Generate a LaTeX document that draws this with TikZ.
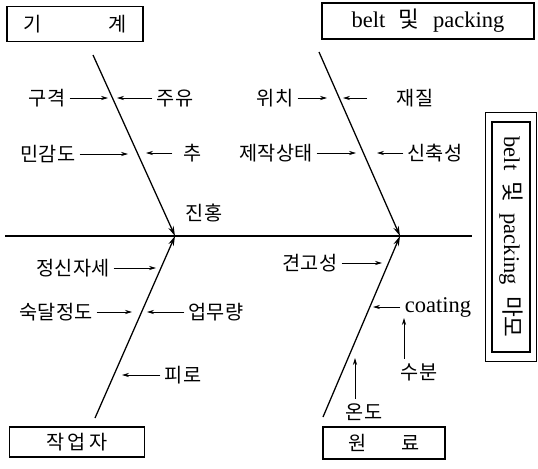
\documentclass[tikz,border=0pt]{standalone}
\usepackage{fontspec}
\setmainfont{Liberation Serif}
\newfontfamily\kr{Noto Sans CJK KR}
\usetikzlibrary{arrows.meta, positioning, calc, fit}

\begin{document}
\begin{tikzpicture}[x=0.025cm, y=-0.025cm,
    every node/.style={font=\kr\fontsize{14}{16}\selectfont, inner sep=3pt},
    box/.style={draw, line width=0.8pt, minimum height=0.85cm, inner sep=2pt},
    latin/.style={font=\rmfamily\fontsize{16}{18}\selectfont},
    bone/.style={-{Stealth[length=7pt, width=4pt]}, line width=0.9pt},
    sarr/.style={-{Stealth[length=5pt, width=3pt]}, line width=0.6pt}
]
\useasboundingbox (0,0) rectangle (538,468);

% category boxes
\node[box, minimum width=3.4cm, minimum height=0.875cm] (machine) at (75,24) {기\hspace{3.4em}계\hspace{1.6em}};
\node[box, latin, minimum width=5.3cm, minimum height=0.9cm] (belt) at (428,21) {belt\hspace{0.6em}{\kr 및}\hspace{0.6em}packing};
\node[box, minimum width=3.375cm, minimum height=0.75cm] (worker) at (77,442) {작\,업\,자};
\node[box, minimum width=3.05cm, minimum height=0.8cm] (material) at (384,443) {원\hspace{1.8em}료\hspace{0.4em}};

% effect
\node[draw, line width=0.8pt, rotate=-90, latin, minimum width=5.75cm, minimum height=0.95cm]
    (wear) at (511,237) {belt\hspace{0.5em}{\kr 및}\hspace{0.5em}packing\hspace{0.5em}{\kr 마모}};
\node[draw, line width=0.8pt, fit=(wear), inner xsep=0.14cm, inner ysep=0.22cm] (wearframe) {};

% spine and bones
\coordinate (tail) at (5,236);
\coordinate (head) at (472,236);
\coordinate (j1) at (175,236);
\coordinate (j2) at (400,236);
\coordinate (b1) at (93,55);
\coordinate (b2) at (319,52);
\coordinate (b3) at (95,418);
\coordinate (b4) at (323,417);

\draw[line width=1pt] (tail) -- (head);
\draw[bone] (b1) -- (j1);
\draw[bone] (b2) -- (j2);
\draw[bone] (b3) -- (j1);
\draw[bone] (b4) -- (j2);

% machine
\node (gyeok) at (47,98) {구격};
\node (juyu) at (175,98) {주유};
\node (mingam) at (48,154) {민감도};
\node (chu) at (193,153) {추};
\node (jinhong) at (204,213) {진홍};
\coordinate (t1) at (108,98);
\coordinate (t2) at (117,98);
\coordinate (t3) at (128,154);
\coordinate (t4) at (146,153);
\draw[sarr] (gyeok) -- (t1);
\draw[sarr] (juyu) -- (t2);
\draw[sarr] (mingam) -- (t3);
\draw[sarr, shorten <=5pt] (chu) -- (t4);

% belt
\node (wichi) at (275,98) {위치};
\node (jaejil) at (415,98) {재질};
\node (jejak) at (276,153) {제작상태};
\node (sinchuk) at (435,153) {신축성};
\coordinate (t5) at (327,98);
\coordinate (t6) at (343,98);
\coordinate (t7) at (356,153);
\coordinate (t8) at (377,153);
\draw[sarr] (wichi) -- (t5);
\draw[sarr, shorten <=18pt] (jaejil) -- (t6);
\draw[sarr] (jejak) -- (t7);
\draw[sarr] (sinchuk) -- (t8);

% worker
\node (jeongsin) at (73,268) {정신자세};
\node (sukdal) at (56,312) {숙달정도};
\node (eopmu) at (216,312) {업무량};
\node (piro) at (183,375) {피로};
\coordinate (t9) at (156,268);
\coordinate (t10) at (132,312);
\coordinate (t11) at (147,312);
\coordinate (t12) at (122,375);
\draw[sarr] (jeongsin) -- (t9);
\draw[sarr] (sukdal) -- (t10);
\draw[sarr] (eopmu) -- (t11);
\draw[sarr] (piro) -- (t12);

% material
\node (gyeongo) at (310,263) {견고성};
\node[latin] (coating) at (438,307) {coating};
\node (subun) at (419,372) {수분};
\node (ondo) at (364,412) {온도};
\coordinate (t13) at (382,263);
\coordinate (t14) at (373,307);
\coordinate (t15) at (404,318);
\coordinate (t16) at (355,358);
\draw[sarr] (gyeongo) -- (t13);
\draw[sarr] (coating) -- (t14);
\draw[sarr] (subun.north -| t15) -- (t15);
\draw[sarr] (ondo.north -| t16) -- (t16);

\end{tikzpicture}
\end{document}
